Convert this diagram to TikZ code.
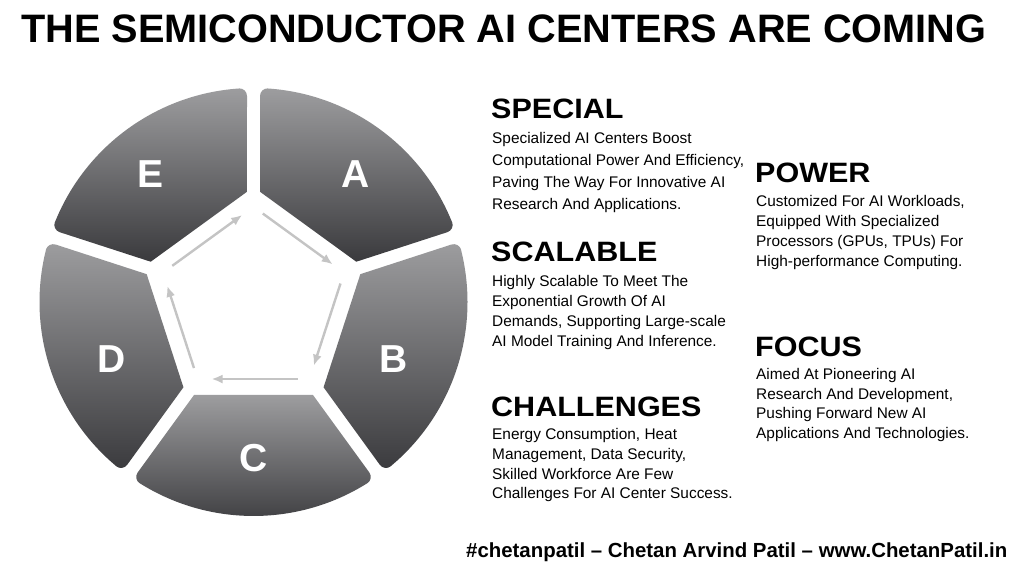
\documentclass[tikz,border=0pt]{standalone}
\usepackage{fontspec}
\setmainfont{Liberation Sans}
\newfontfamily\headfont[FakeStretch=1.09]{Liberation Sans}
\usetikzlibrary{arrows.meta}
\definecolor{gtop}{RGB}{157,157,159}
\definecolor{gbot}{RGB}{58,58,61}
\definecolor{arrgray}{RGB}{196,196,196}
\tikzset{
  seg/.style={top color=gtop, bottom color=gbot, draw=none},
  seglabel/.style={text=white, font=\fontsize{39}{39}\selectfont\bfseries, inner sep=0pt},
  cyclearrow/.style={draw=arrgray, line width=2.4pt, -{Latex[length=11pt,width=9pt]}, shorten <=11.5pt, shorten >=14pt},
  heading/.style={anchor=base west, inner sep=0pt, font=\headfont\fontsize{28}{28}\selectfont\bfseries},
  bodytext/.style={anchor=base west, inner sep=0pt, font=\fontsize{15.4}{19.8}\selectfont},
}
\begin{document}
\begin{tikzpicture}[x=1pt,y=1pt]
\useasboundingbox (0,0) rectangle (1024,569);
\fill[white] (0,0) rectangle (1024,569);

% title
\node[anchor=base west, inner sep=0pt, font=\fontsize{39.7}{40}\selectfont\bfseries] (title) at (21,526.7) {THE SEMICONDUCTOR AI CENTERS ARE COMING};

% wheel
\begin{scope}[shift={(253.5,267)}]
  \foreach \t in {54,-18,-90,198,126}{
    \begin{scope}
      \clip[rounded corners=8pt] (\t-31.45:82pt) -- (\t-34.26:214pt)
        arc[start angle=\t-34.26, end angle=\t+34.26, radius=214pt]
        -- (\t+31.45:82pt) -- cycle;
      \shade[seg] (\t-32.6:110.4pt) -- (\t-34.26:214pt)
        arc[start angle=\t-34.26, end angle=\t+34.26, radius=214pt]
        -- (\t+32.6:110.4pt) -- cycle;
    \end{scope}
  }
  \coordinate (v1) at (90:95.2pt);
  \coordinate (v2) at (18:95.2pt);
  \coordinate (v3) at (-54:95.2pt);
  \coordinate (v4) at (-126:95.2pt);
  \coordinate (v5) at (162:95.2pt);
\end{scope}
\draw[cyclearrow] (v1) -- (v2);
\draw[cyclearrow] (v2) -- (v3);
\draw[cyclearrow] (v3) -- (v4);
\draw[cyclearrow] (v4) -- (v5);
\draw[cyclearrow] (v5) -- (v1);

\node[seglabel] (labA) at (356,395) {A};
\node[seglabel] (labB) at (394,210) {B};
\node[seglabel] (labC) at (254,111) {C};
\node[seglabel] (labD) at (111.7,210) {D};
\node[seglabel] (labE) at (150.8,395) {E};

% left column
\node[heading] (hSpecial) at (491,450.7) {SPECIAL};
\node[bodytext, font=\fontsize{15.4}{22}\selectfont] (tSpecial) at (492,425.7) {\begin{tabular}[t]{@{}l@{}}Specialized AI Centers Boost\\Computational Power And Efficiency,\\Paving The Way For Innovative AI\\Research And Applications.\end{tabular}};

\node[heading] (hScalable) at (491,307.3) {SCALABLE};
\node[bodytext] (tScalable) at (492,282.3) {\begin{tabular}[t]{@{}l@{}}Highly Scalable To Meet The\\Exponential Growth Of AI\\Demands, Supporting Large-scale\\AI Model Training And Inference.\end{tabular}};

\node[heading] (hChallenges) at (491,152.3) {CHALLENGES};
\node[bodytext] (tChallenges) at (492,129.5) {\begin{tabular}[t]{@{}l@{}}Energy Consumption, Heat\\Management, Data Security,\\Skilled Workforce Are Few\\Challenges For AI Center Success.\end{tabular}};

% right column
\node[heading] (hPower) at (755,386.7) {POWER};
\node[bodytext, font=\fontsize{15.4}{20}\selectfont] (tPower) at (756,362.3) {\begin{tabular}[t]{@{}l@{}}Customized For AI Workloads,\\Equipped With Specialized\\Processors (GPUs, TPUs) For\\High-performance Computing.\end{tabular}};

\node[heading] (hFocus) at (755,212.3) {FOCUS};
\node[bodytext] (tFocus) at (756,189.7) {\begin{tabular}[t]{@{}l@{}}Aimed At Pioneering AI\\Research And Development,\\Pushing Forward New AI\\Applications And Technologies.\end{tabular}};

% footer
\node[anchor=base west, inner sep=0pt, font=\fontsize{20.4}{21}\selectfont\bfseries] (footer) at (466,11) {\#chetanpatil – Chetan Arvind Patil – www.ChetanPatil.in};
\end{tikzpicture}
\end{document}
